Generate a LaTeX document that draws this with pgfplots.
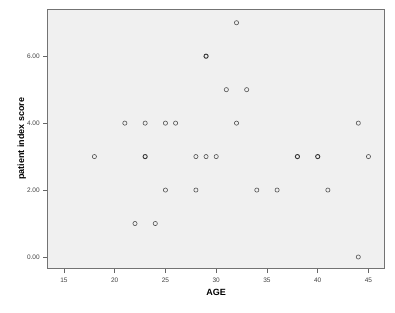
\documentclass[border=0pt]{standalone}
\usepackage{pgfplots}
\pgfplotsset{compat=1.18}
\usepackage{fontspec}
\setmainfont{Liberation Sans}
\definecolor{bgc}{HTML}{F0F0F0}
\definecolor{mk}{HTML}{505050}
\begin{document}
\begin{tikzpicture}
\begin{axis}[
  name=ax,
  scale only axis,
  width=337pt, height=259.7pt,
  xmin=13.4, xmax=46.6, ymin=-0.35, ymax=7.41,
  xtick={15,20,...,45},
  ytick={0,2,4,6},
  yticklabels={0.00,2.00,4.00,6.00},
  axis background/.style={fill=bgc},
  axis line style={draw=black!55, line width=0.8pt},
  axis x line*=bottom, axis y line*=left,
  tick align=outside,
  major tick length=4.5pt,
  tick style={black!60, line width=0.6pt},
  tick label style={font=\fontsize{6.5}{7}\selectfont, text=black!75},
  /pgf/number format/assume math mode=true,
  xticklabel style={yshift=-1pt},
  yticklabel style={xshift=0pt},
  xlabel={AGE},
  ylabel={patient index score},
  every axis x label/.style={at={(axis description cs:0.5,-0.0924)}, anchor=center, font=\fontsize{9}{10}\selectfont\bfseries},
  every axis y label/.style={at={(axis description cs:-0.0772,0.5)}, rotate=90, anchor=center, font=\fontsize{9}{10}\selectfont\bfseries},
  clip=false,
]
\addplot[only marks, mark=o, mark size=2.1pt, mark options={draw=mk, line width=0.6pt}] coordinates {
(18,3) (21,4) (22,1) (23,4) (24,1) (25,4) (25,2) (26,4)
(28,3) (28,2) (29,3) (30,3) (31,5) (32,7) (32,4) (33,5)
(34,2) (36,2) (41,2) (44,4) (44,0) (45,3)
};
\addplot[only marks, mark=o, mark size=2.1pt, mark options={draw=black!80, line width=0.9pt}] coordinates {
(23,3) (29,6) (38,3) (40,3)
};
\end{axis}
\draw[black!55, line width=0.8pt] (ax.south east) -- (ax.north east) -- (ax.north west);
\pgfresetboundingbox
\path ([shift={(-47.7pt,-43.3pt)}]ax.south west) rectangle ([shift={(10.3pt,9pt)}]ax.north east);
\end{tikzpicture}
\end{document}
